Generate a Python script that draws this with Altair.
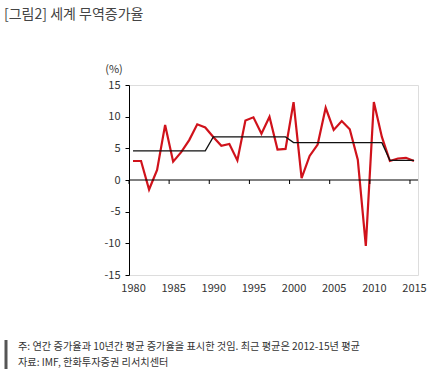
import altair as alt
import pandas as pd

years = list(range(1980, 2016))
growth = [3.0, 3.0, -1.5, 1.6, 8.7, 2.9, 4.4, 6.3, 8.8, 8.3,
          6.8, 5.4, 5.7, 3.1, 9.4, 9.9, 7.3, 10.0, 4.8, 4.9,
          12.3, 0.3, 3.8, 5.6, 11.4, 7.9, 9.3, 8.0, 3.2, -10.4,
          12.3, 6.8, 3.0, 3.4, 3.5, 3.0]
avg_periods = [(1980, 1989, 4.6), (1990, 1999, 6.8), (2000, 2011, 5.9), (2012, 2015, 3.1)]
x_labels = [1980, 1985, 1990, 1995, 2000, 2005, 2010, 2015]
y_ticks = [-15, -10, -5, 0, 5, 10, 15]

title_text = "[그림2] 세계 무역증가율"
note_text = "주: 연간 증가율과 10년간 평균 증가율을 표시한 것임. 최근 평균은 2012-15년 평균"
source_text = "자료: IMF, 한화투자증권 리서치센터"

avg_vals = []
for y in years:
    for a, b, v in avg_periods:
        if a <= y <= b:
            avg_vals.append(v)
df = pd.DataFrame({"year": years, "growth": growth, "avg": avg_vals})
ticks_df = pd.DataFrame({"pos": [v - 0.5 for v in x_labels]})

FONT = "Noto Sans CJK KR"
xscale = alt.Scale(domain=[1979.5, 2015.5], nice=False, zero=False)
yscale = alt.Scale(domain=[-15, 15], nice=False)

x_axis = alt.Axis(values=x_labels, format="d", domain=False, ticks=False,
                  grid=False, labelPadding=7, labelFontSize=11,
                  labelFont=FONT, labelColor="#333", labelFlush=False,
                  labelOverlap=False)
y_axis = alt.Axis(values=y_ticks, grid=False, domainColor="#000", tickColor="#000",
                  tickSize=4, labelPadding=5, labelFontSize=11, labelFont=FONT,
                  labelColor="#333", labelOverlap=False, labelFlush=False,
                  labelBound=False, labelExpr="toString(datum.value)")

base = alt.Chart(df)
red = base.mark_line(color="#d0121b", strokeWidth=2.2).encode(
    x=alt.X("year:Q", scale=xscale, title=None, axis=x_axis),
    y=alt.Y("growth:Q", scale=yscale, title=None, axis=y_axis))
black = base.mark_line(color="#111", strokeWidth=1.3).encode(
    x=alt.X("year:Q", title=None, axis=x_axis),
    y=alt.Y("avg:Q", title=None, axis=y_axis))

zero = alt.Chart(pd.DataFrame({"a": [1979.5], "b": [2015.5]})).mark_rule(
    color="#000", strokeWidth=1).encode(
    x=alt.X("a:Q", title=None, axis=x_axis), x2="b:Q",
    y=alt.Y(datum=0, title=None, axis=y_axis))
xt = alt.Chart(ticks_df).mark_rule(color="#000", strokeWidth=1, y2Offset=4).encode(
    x=alt.X("pos:Q", title=None, axis=x_axis),
    y=alt.Y(datum=0, title=None, axis=y_axis), y2=alt.datum(0))

def txt(t, x, y, size, color="#333", align="left"):
    return alt.Chart(pd.DataFrame({"t": [t]})).mark_text(
        align=align, baseline="middle", font=FONT, fontSize=size, color=color
    ).encode(text="t:N", x=alt.value(x), y=alt.value(y))

title = txt(title_text, -125, -70, 14, "#444")
pct = txt("(%)", -15, -15, 11, "#333", align="center")
note = txt(note_text, -111, 262, 10.2, "#333")
src = txt(source_text, -111, 278, 10.2, "#333")
bar = alt.Chart(pd.DataFrame({"k": [0]})).mark_rule(color="#555", strokeWidth=3).encode(
    x=alt.value(-123), y=alt.value(255), y2=alt.value(284))

chart = alt.layer(red, black, zero, xt, title, pct, note, src, bar).properties(
    width=289, height=190,
    autosize=alt.AutoSizeParams(type="none"),
    padding={"left": 129, "top": 85, "right": 12, "bottom": 102},
).configure_view(stroke=None).configure_axis(labelOverlap=False).configure(background="#ffffff")

chart.save("out.html", embed_options={"renderer": "svg", "actions": False})
